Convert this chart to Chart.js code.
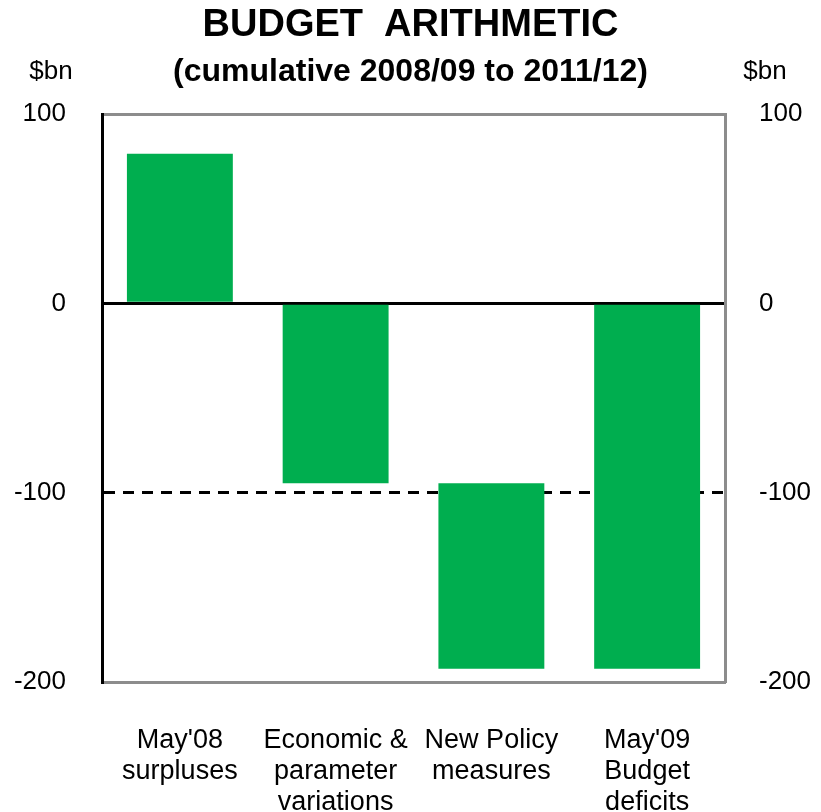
<!DOCTYPE html>
<html lang="en">
<head>
    <meta charset="UTF-8">
    <title>Budget Arithmetic</title>
    <script src="https://cdn.jsdelivr.net/npm/chart.js"></script>
    <style>
        body {
            margin: 0;
            background-color: #ffffff;
        }
        #wrap {
            position: relative;
            width: 821px;
            height: 812px;
        }
    </style>
</head>
<body>
    <div id="wrap">
        <canvas id="budget"></canvas>
    </div>
    <script>
        // cumulative 2008/09 to 2011/12, $bn
        const categories = [
            ["May'08", "surpluses"],
            ["Economic &", "parameter", "variations"],
            ["New Policy", "measures"],
            ["May'09", "Budget", "deficits"]
        ];
        const barStart = [0, 0, -95, 0];
        const barEnd = [79, -95, -193, -193];
        const yTicks = [100, 0, -100, -200];

        const FONT = "'Liberation Sans', Arial, sans-serif";
        const green = '#00ae4f';

        // "$bn" unit labels above both axes
        const unitLabels = {
            id: 'unitLabels',
            afterDraw(chart) {
                const ctx = chart.ctx;
                const area = chart.chartArea;
                ctx.save();
                ctx.font = '26px ' + FONT;
                ctx.fillStyle = '#000';
                ctx.textAlign = 'center';
                ctx.textBaseline = 'middle';
                ctx.fillText('$bn', area.left - 51, 72);
                ctx.fillText('$bn', area.right + 40, 72);
                ctx.restore();
            }
        };

        const yCommon = {
            min: -200,
            max: 100,
            afterBuildTicks: (scale) => {
                scale.ticks = yTicks.map(v => ({ value: v }));
            },
            ticks: {
                color: '#000',
                font: { family: FONT, size: 26 }
            }
        };

        new Chart(document.getElementById('budget'), {
            type: 'bar',
            data: {
                labels: categories,
                datasets: [{
                    data: barStart.map((s, i) => [s, barEnd[i]]),
                    backgroundColor: green,
                    borderWidth: 0,
                    barPercentage: 0.68,
                    categoryPercentage: 1
                }]
            },
            options: {
                responsive: true,
                maintainAspectRatio: false,
                animation: false,
                layout: { padding: 0 },
                plugins: {
                    legend: { display: false },
                    tooltip: { enabled: false },
                    title: {
                        display: true,
                        text: 'BUDGET  ARITHMETIC',
                        color: '#000',
                        font: { family: FONT, size: 38, weight: 'bold', lineHeight: 1.2 },
                        padding: { top: 3, bottom: 0 }
                    },
                    subtitle: {
                        display: true,
                        text: '(cumulative 2008/09 to 2011/12)',
                        color: '#000',
                        font: { family: FONT, size: 32, weight: 'bold', lineHeight: 1.2 },
                        padding: { top: 4.6, bottom: 22.4 }
                    }
                },
                scales: {
                    x: {
                        afterFit: (scale) => { scale.height = 130; },
                        grid: { display: false },
                        border: { display: true, color: '#8c8c8c', width: 3 },
                        ticks: {
                            color: '#000',
                            padding: 35,
                            maxRotation: 0,
                            autoSkip: false,
                            font: { family: FONT, size: 27, lineHeight: 1.15 }
                        }
                    },
                    y: {
                        ...yCommon,
                        position: 'left',
                        afterFit: (scale) => { scale.width = 102; },
                        ticks: { ...yCommon.ticks, padding: 36 },
                        border: {
                            display: true,
                            color: '#000',
                            width: 3,
                            z: 1,
                            dash: (ctx) => (ctx.tick && ctx.tick.value === -100 ? [11, 8] : [])
                        },
                        grid: {
                            drawTicks: false,
                            color: (ctx) => {
                                const v = ctx.tick ? ctx.tick.value : null;
                                if (v === 0 || v === -100) return '#000';
                                if (v === 100 || v === -200) return '#8c8c8c';
                                return 'rgba(0,0,0,0)';
                            },
                            lineWidth: 3
                        }
                    },
                    y2: {
                        ...yCommon,
                        position: 'right',
                        afterFit: (scale) => { scale.width = 96; },
                        ticks: { ...yCommon.ticks, padding: 34 },
                        border: { display: true, color: '#8c8c8c', width: 3 },
                        grid: { display: false, drawTicks: false }
                    }
                }
            },
            plugins: [unitLabels]
        });
    </script>
</body>
</html>
